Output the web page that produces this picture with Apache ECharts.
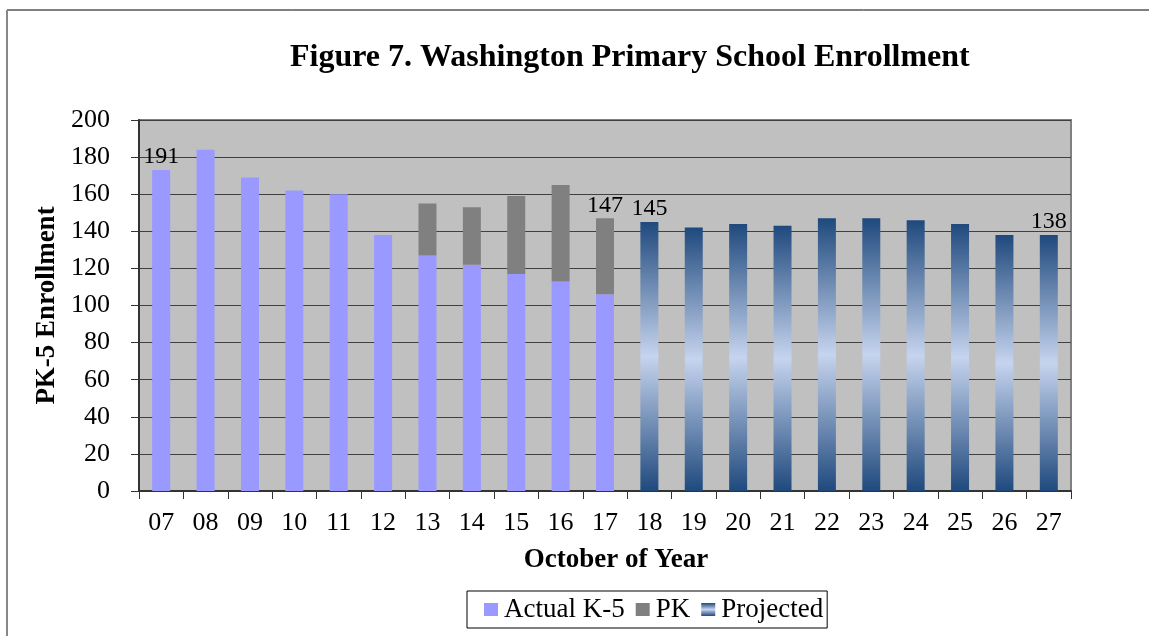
<!DOCTYPE html>
<html>
<head>
<meta charset="utf-8">
<script src="https://cdn.jsdelivr.net/npm/echarts@6/dist/echarts.min.js"></script>
<style>
  html, body { margin: 0; padding: 0; background: #fff; }
  #chart { width: 1149px; height: 636px; }
</style>
</head>
<body>
<div id="chart"></div>
<script>
const years = ['07', '08', '09', '10', '11', '12', '13', '14', '15', '16', '17',
  '18', '19', '20', '21', '22', '23', '24', '25', '26', '27']
const actualK5 = [173, 184, 169, 162, 160, 138, 127, 122, 117, 113, 106,
  null, null, null, null, null, null, null, null, null, null]
const pk = [null, null, null, null, null, null, 28, 31, 42, 52, 41,
  null, null, null, null, null, null, null, null, null, null]
const projected = [null, null, null, null, null, null, null, null, null, null, null,
  145, 142, 144, 143, 147, 147, 146, 144, 138, 138]
const barLabels = ['191', '', '', '', '', '', '', '', '', '', '147',
  '145', '', '', '', '', '', '', '', '', '138']
const yTicks = [0, 200, 20]

const serif = '"Liberation Serif", "Times New Roman", serif'
const chart = echarts.init(document.getElementById('chart'))

// which series carries the label at index i: the top one of the stack
const topOf = i => projected[i] != null ? 'proj' : pk[i] != null ? 'pk' : 'k5'

const withLabels = (arr, key) => arr.map((v, i) => {
  if (v == null) return '-'
  if (barLabels[i] && topOf(i) === key) {
    return { value: v, label: { show: true, formatter: barLabels[i] } }
  }
  return v
})

const labelStyle = {
  show: false, position: 'top', distance: 1,
  color: '#000', fontFamily: serif, fontSize: 24
}

const projGradient = new echarts.graphic.LinearGradient(0, 0, 0, 1, [
  { offset: 0, color: '#1F497D' },
  { offset: 0.5, color: '#C6D4EE' },
  { offset: 1, color: '#1F497D' }
])

chart.setOption({
  animation: false,
  title: {
    text: 'Figure 7. Washington Primary School Enrollment',
    left: 285, top: 37,
    textStyle: { fontFamily: serif, fontSize: 32, fontWeight: 'bold', color: '#000' }
  },
  graphic: [
    { type: 'line', shape: { x1: 7, y1: 10, x2: 1149, y2: 10 }, style: { stroke: '#000', lineWidth: 1 } },
    { type: 'line', shape: { x1: 7, y1: 10, x2: 7, y2: 636 }, style: { stroke: '#888', lineWidth: 2 } }
  ],
  legend: {
    left: 467, top: 591,
    padding: [5, 4, 5, 17],
    borderColor: '#000', borderWidth: 1, borderRadius: 0,
    backgroundColor: '#fff',
    itemWidth: 14, itemHeight: 13, itemGap: 11,
    icon: 'rect',
    textStyle: { fontFamily: serif, fontSize: 27, color: '#000', padding: [0, 0, 0, 1] },
    data: ['Actual K-5', 'PK', 'Projected']
  },
  grid: {
    left: 139, right: 78, top: 120, bottom: 145,
    show: true, backgroundColor: '#C0C0C0', borderColor: '#808080', borderWidth: 2
  },
  xAxis: {
    type: 'category',
    data: years,
    name: 'October of Year',
    nameLocation: 'middle',
    nameGap: 56,
    nameTextStyle: { fontFamily: serif, fontSize: 27, fontWeight: 'bold', color: '#000', padding: [0, 0, 0, 22] },
    axisLine: { lineStyle: { color: '#333', width: 2 } },
    axisTick: { show: true, length: 8, lineStyle: { color: '#333' } },
    axisLabel: { fontFamily: serif, fontSize: 26, color: '#000', margin: 19 }
  },
  yAxis: {
    type: 'value',
    min: yTicks[0], max: yTicks[1], interval: yTicks[2],
    name: 'PK-5 Enrollment',
    nameLocation: 'middle',
    nameGap: 78,
    nameRotate: 90,
    nameTextStyle: { fontFamily: serif, fontSize: 27, fontWeight: 'bold', color: '#000' },
    axisLine: { show: true, lineStyle: { color: '#333', width: 2 } },
    axisTick: { show: true, length: 8, lineStyle: { color: '#333' } },
    axisLabel: { fontFamily: serif, fontSize: 26, color: '#000', margin: 29 },
    splitLine: { lineStyle: { color: '#404040', width: 1 } }
  },
  series: [
    {
      name: 'Actual K-5', type: 'bar', stack: 'enroll', barWidth: 18,
      itemStyle: { color: '#9999FF' },
      label: labelStyle,
      data: withLabels(actualK5, 'k5')
    },
    {
      name: 'PK', type: 'bar', stack: 'enroll', barWidth: 18,
      itemStyle: { color: '#808080' },
      label: labelStyle,
      data: withLabels(pk, 'pk')
    },
    {
      name: 'Projected', type: 'bar', stack: 'enroll', barWidth: 18,
      itemStyle: { color: projGradient },
      label: labelStyle,
      data: withLabels(projected, 'proj')
    }
  ]
})
</script>
</body>
</html>
